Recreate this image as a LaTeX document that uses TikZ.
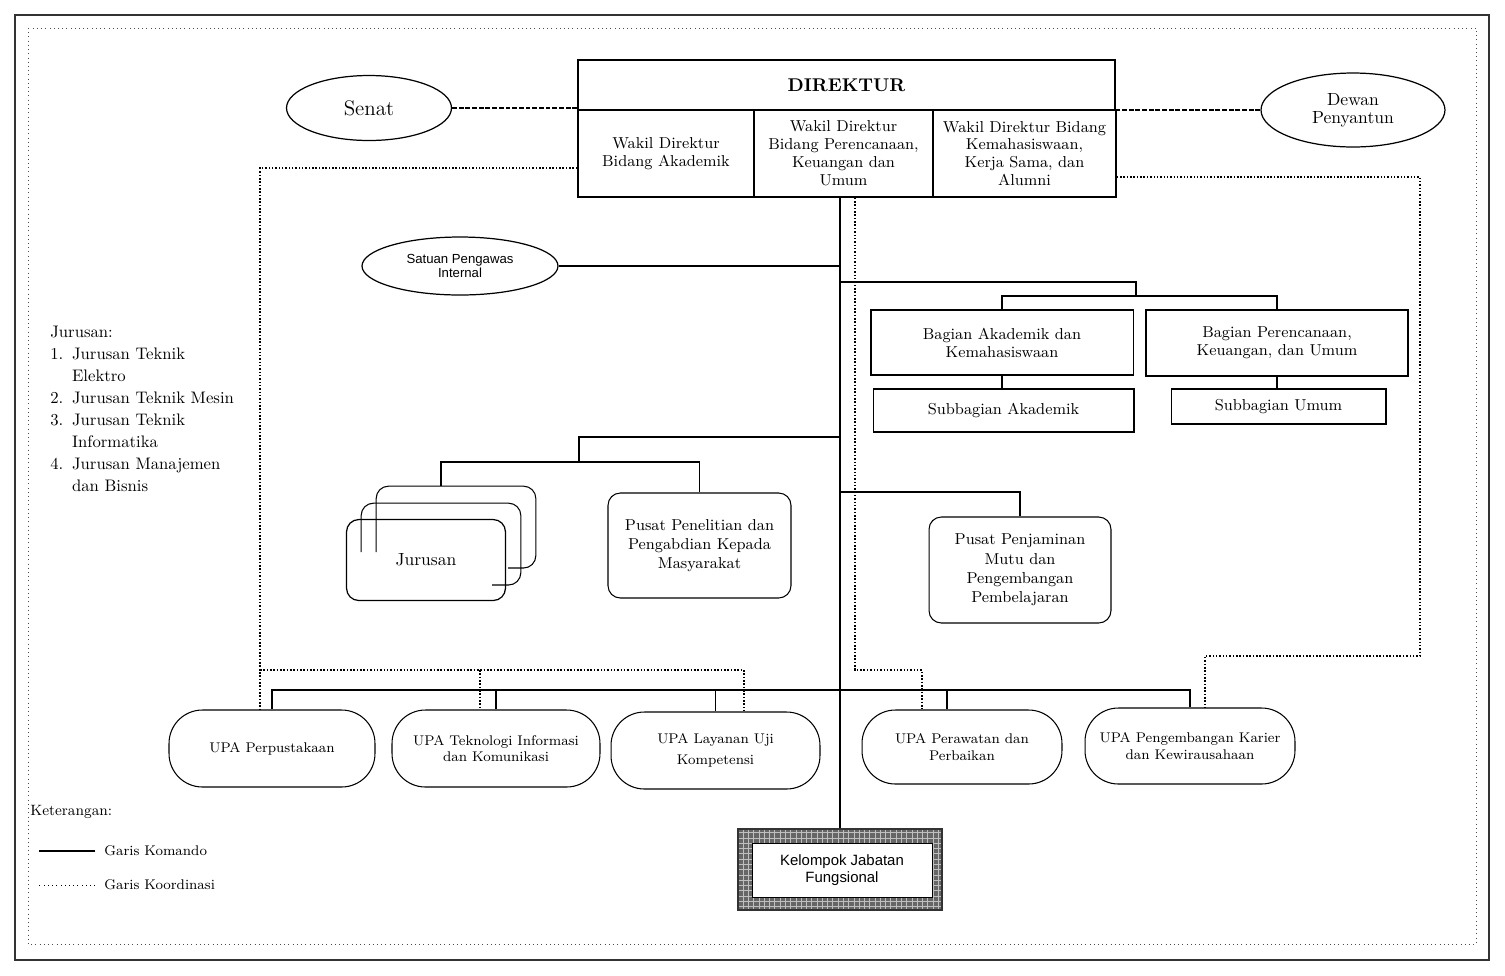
\documentclass[tikz,border=0pt]{standalone}
\usepackage{fontspec}
\newfontfamily\arialfont{Liberation Sans}
\usetikzlibrary{shapes.geometric,patterns}
\begin{document}
\begin{tikzpicture}[x=0.02cm,y=-0.02cm,
	box/.style={draw,line width=0.6pt,inner sep=1pt,align=center,font=\fontsize{9}{10.2}\selectfont},
	wdbox/.style={box,line width=0.9pt,minimum height=1.74cm},
	bagbox/.style={box,line width=1.1pt,minimum width=5.26cm,minimum height=1.31cm},
	subbox/.style={box,minimum height=0.86cm},
	oval/.style={draw,ellipse,line width=0.7pt,inner sep=0pt,align=center},
	rbox/.style={box,rounded corners=7pt,minimum width=3.66cm,minimum height=2.1cm,font=\fontsize{9}{11}\selectfont},
	jurbox/.style={minimum width=3.18cm,minimum height=1.62cm},
	upa/.style={box,rounded corners=19pt,minimum width=4.12cm,minimum height=1.54cm,font=\fontsize{8}{9.6}\selectfont},
	komando/.style={line width=0.6pt},
	koord/.style={densely dotted,line width=0.9pt},
	bar/.style={line width=1.1pt}]
	\useasboundingbox (0,0) rectangle (1505,975);
	% frame
	\draw[line width=0.8pt,black!80] (15,15) rectangle (1489,960);
	\draw[dotted,black!70] (28,28) rectangle (1476,944);
	% pimpinan
	\node[box,line width=0.9pt,minimum width=10.74cm,minimum height=1cm,font=\fontsize{10.5}{12}\selectfont\bfseries] (dir) at (846.5,85) {DIREKTUR};
	\node[wdbox,minimum width=3.52cm] (wdA) at (666,153.5) {Wakil Direktur\\Bidang Akademik};
	\node[wdbox,minimum width=3.58cm] (wdP) at (843.5,153.5) {Wakil Direktur\\Bidang Perencanaan,\\Keuangan dan\\Umum};
	\node[wdbox,minimum width=3.66cm] (wdK) at (1024.5,153.5) {Wakil Direktur Bidang\\Kemahasiswaan,\\Kerja Sama, dan\\Alumni};
	\node[oval,minimum width=3.3cm,minimum height=1.3cm,font=\fontsize{12}{14}\selectfont] (senat) at (369,108) {Senat};
	\node[oval,minimum width=3.68cm,minimum height=1.48cm,font=\fontsize{10}{10.2}\selectfont] (dewan) at (1353,110) {Dewan\\Penyantun};
	\node[oval,minimum width=3.92cm,minimum height=1.16cm,font=\arialfont\fontsize{7.5}{6.8}\selectfont] (spi) at (460,266) {Satuan Pengawas\\Internal};
	% bagian
	\node[bagbox] (bak) at (1002,342.5) {Bagian Akademik dan\\Kemahasiswaan};
	\node[bagbox,minimum width=5.24cm] (bpk) at (1277,343) {Bagian Perencanaan,\\Keuangan, dan Umum};
	\node[subbox,minimum width=5.22cm] (sba) at (1003.5,410.5) {Subbagian Akademik};
	\node[subbox,minimum width=4.3cm,minimum height=0.7cm] (sbu) at (1278.5,406.5) {Subbagian Umum};
	% jurusan dan pusat
	\node[jurbox] (jur3) at (456,527) {};
	\node[jurbox] (jur2) at (441,544) {};
	\node[box,jurbox,line width=0.7pt,rounded corners=7pt,font=\fontsize{10}{12}\selectfont] (jur1) at (426,560) {Jurusan};
	\draw[komando,rounded corners=7pt] (jur3.west |- 0,552) |- (jur3.north east) |- (508,568);
	\draw[komando,rounded corners=7pt] (jur2.west |- 0,552) |- (jur2.north east) |- (492,585);
	\node[rbox] (ppm) at (699.5,545.5) {Pusat Penelitian dan\\Pengabdian Kepada\\Masyarakat};
	\node[rbox,minimum width=3.64cm,minimum height=2.12cm] (ppmp) at (1020,570) {Pusat Penjaminan\\Mutu dan\\Pengembangan\\Pembelajaran};
	% UPA
	\node[upa] (upa1) at (272,748.5) {UPA Perpustakaan};
	\node[upa,minimum width=4.16cm] (upa2) at (496,748.5) {UPA Teknologi Informasi\\dan Komunikasi};
	\node[upa,minimum width=4.18cm,font=\fontsize{8}{12}\selectfont] (upa3) at (715.5,750.5) {UPA Layanan Uji\\Kompetensi};
	\node[upa,minimum width=4cm,minimum height=1.48cm] (upa4) at (962,747) {UPA Perawatan dan\\Perbaikan};
	\node[upa,minimum width=4.2cm,minimum height=1.52cm] (upa5) at (1190,746) {UPA Pengembangan Karier\\dan Kewirausahaan};
	% kelompok jabatan fungsional
	\node[minimum width=4.08cm,minimum height=1.62cm,draw=black!80,line width=0.8pt,preaction={fill=black!60},pattern=grid,pattern color=black!25] (kjf) at (840,869.5) {};
	\node[draw,line width=0.5pt,fill=white,minimum width=3.6cm,minimum height=1.08cm,align=center,font=\arialfont\fontsize{8.5}{9.6}\selectfont] (kjfin) at (842,870) {Kelompok Jabatan\\Fungsional};
	% jurusan list
	\node[anchor=north west,inner sep=0pt,font=\fontsize{9.5}{12.5}\selectfont] (jlist) at (50,322) {\begin{tabular}{@{}l@{\hspace{5pt}}l@{}}
		\multicolumn{2}{@{}l}{Jurusan:}\\
		1. & Jurusan Teknik\\
		 & Elektro\\
		2. & Jurusan Teknik Mesin\\
		3. & Jurusan Teknik\\
		 & Informatika\\
		4. & Jurusan Manajemen\\
		 & dan Bisnis
	\end{tabular}};
	% keterangan
	\node[anchor=west,inner sep=0pt,font=\fontsize{8.5}{10}\selectfont] (ket) at (30,812) {Keterangan:};
	\node[anchor=west,inner sep=0pt,font=\fontsize{8}{10}\selectfont] (lgkom) at (104,851) {Garis Komando};
	\node[anchor=west,inner sep=0pt,font=\fontsize{8}{10}\selectfont] (lgkoord) at (104,885) {Garis Koordinasi};
	\draw[komando] ([xshift=-0.18cm]lgkom.west) -- ++(-56,0);
	\draw[dotted] ([xshift=-0.18cm]lgkoord.west) -- ++(-56,0);
	% garis komando
	\draw[dash pattern=on 2.8pt off 1pt,line width=1.3pt] (senat.east) -- (senat.east -| dir.west);
	\draw[dash pattern=on 2.8pt off 1pt,line width=1.3pt] (dewan.west) -- (dewan.west -| dir.east);
	\draw[komando] (wdP.south -| kjf.north) -- (kjf.north);
	\draw[komando] (spi.east) -- (spi.east -| kjf.north);
	\coordinate (bagbar) at (1136,296);
	\draw[komando] (kjf.north |- 0,282) -| (bagbar);
	\draw[bar] (bak.north) |- (bagbar) -| (bpk.north);
	\draw[komando] (bak.south) -- (bak.south |- sba.north);
	\draw[komando] (bpk.south) -- (bpk.south |- sbu.north);
	\coordinate (jurbar) at (579,462);
	\draw[komando] (kjf.north |- 0,437) -| (jurbar);
	\draw[bar] (jur2.center |- jur3.north) |- (jurbar) -| (ppm.north);
	\draw[komando] (kjf.north |- 0,492) -| (ppmp.north);
	\coordinate (upabar) at (838,690);
	\draw[line width=0.8pt] (upa1.north) |- (upabar) -| (upa5.north);
	\draw[komando] (upa2.north) -- (upa2.north |- upabar);
	\draw[komando] (upa3.north) -- (upa3.north |- upabar);
	\draw[komando] (upa4.north -| 947,0) -- (upabar -| 947,0);
	% garis koordinasi
	\coordinate (ka) at (260,670);
	\draw[koord] (wdA.west |- 0,168) -| (ka) -- (upa1.north -| ka);
	\draw[koord] (ka) -| (upa3.north -| 744,0);
	\draw[koord] (ka -| 480,0) -- (upa2.north -| 480,0);
	\coordinate (kb) at (855,670);
	\draw[koord] (wdP.south -| kb) -- (kb) -| (upa4.north -| 922,0);
	\coordinate (kc) at (1420,656);
	\draw[koord] (wdK.east |- 0,177) -| (kc) -| (upa5.north -| 1205,0);
\end{tikzpicture}
\end{document}
